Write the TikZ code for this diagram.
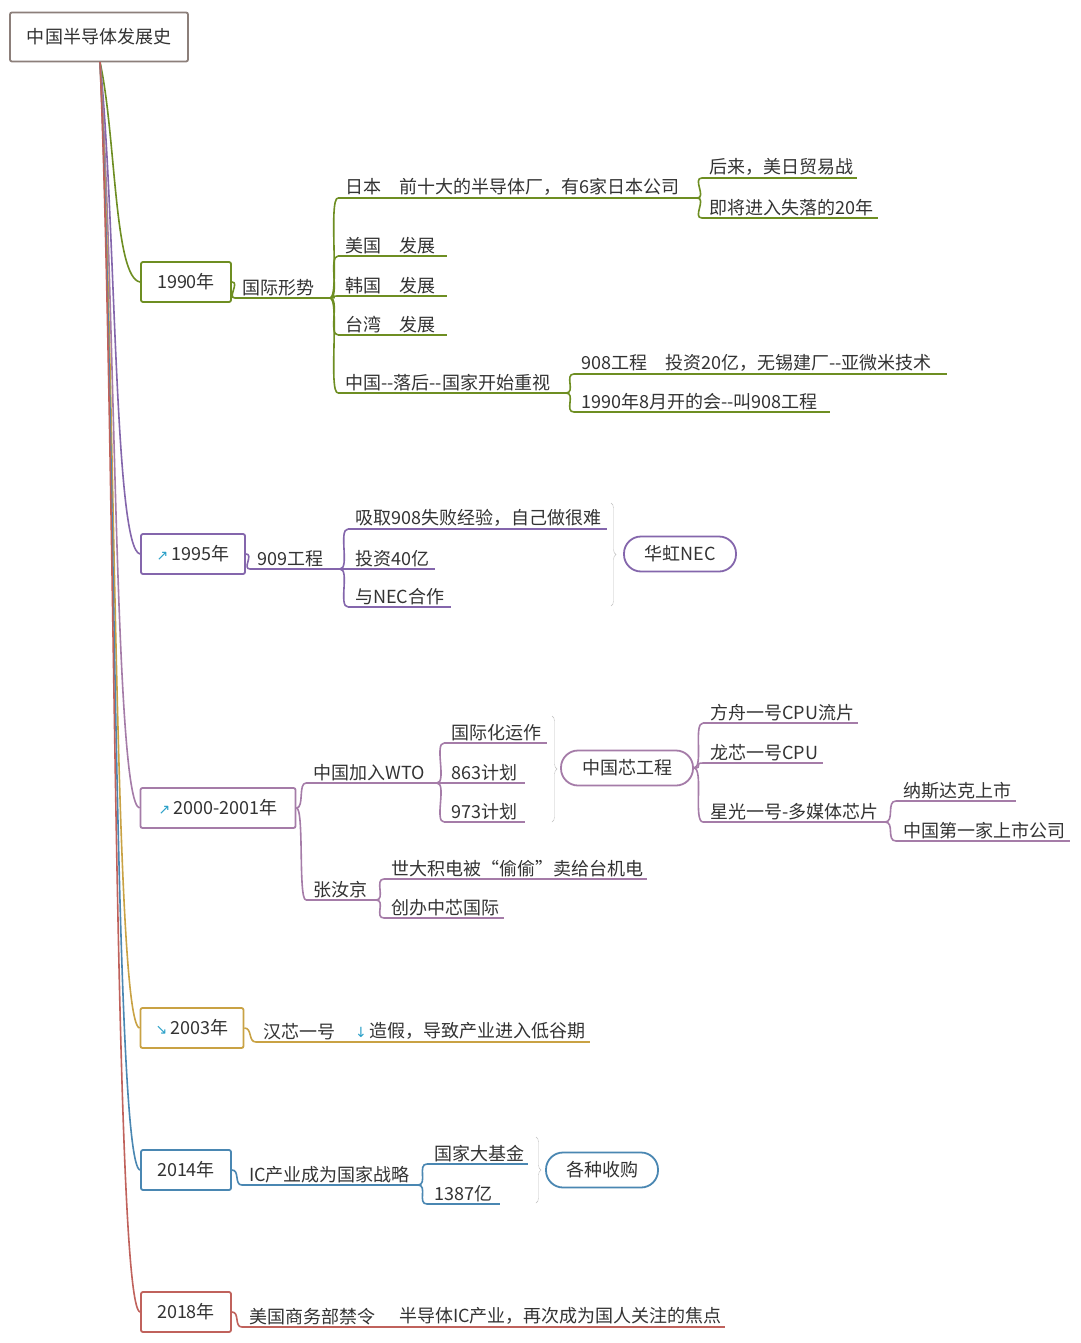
\documentclass[tikz,border=0pt]{standalone}
\usepackage{fontspec}
\setmainfont{Noto Sans CJK SC}
\newfontfamily\symfont{DejaVu Sans}
\usetikzlibrary{decorations.pathreplacing}
\definecolor{rootc}{HTML}{8C7F7A}
\definecolor{c1990}{HTML}{6E8E22}
\definecolor{c1995}{HTML}{8466AC}
\definecolor{c2000}{HTML}{A57CA8}
\definecolor{c2003}{HTML}{C9A244}
\definecolor{c2014}{HTML}{4A87B2}
\definecolor{c2018}{HTML}{C0625C}
\definecolor{textc}{HTML}{333333}
\definecolor{iconc}{HTML}{2AA0C8}
\tikzset{
  year/.style={draw, rectangle, rounded corners=2pt, line width=1.8pt, minimum height=40pt, text=textc, inner xsep=8pt},
  pill/.style={draw, rectangle, rounded corners=17pt, line width=1.8pt, minimum height=35pt, text=textc, inner xsep=16pt},
  branch/.style={line width=1.6pt},
  sbrace/.style={draw=black!25, decorate, decoration={brace, amplitude=5pt}},
}
% underlined topic: name, start x, end x, underline y, colour, text
\newcommand{\topic}[6]{%
  \coordinate (#1-s) at (#2,#4);
  \coordinate (#1-e) at (#3,#4);
  \node[anchor=south west, inner sep=1pt, text=textc] (#1) at (#2+6,#4-1) {#6};
  \draw[#5, branch] (#1-s) -- (#1-e);}
\newcommand{\mmlink}[3]{\draw[#3, branch] (#1) .. controls +(10,0) and +(-10,0) .. (#2);}
\newcommand{\icon}[1]{{\symfont\color{iconc}\fontsize{14}{14}\selectfont #1}\,}
\newcommand{\dd}{{-}{-}}

\begin{document}
\begin{tikzpicture}[x=1pt, y=-1pt, font=\fontsize{18}{21}\selectfont]
\fill[white] (0,0) rectangle (1080,1343);

% root and years
\node[year, draw=rootc, minimum width=178pt, minimum height=49pt] (root) at (99,37) {中国半导体发展史};
\node[year, draw=c1990, minimum width=90pt] (y1990) at (186,282) {1990年};
\node[year, draw=c1995, minimum width=104pt] (y1995) at (193,554) {\icon{↗}1995年};
\node[year, draw=c2000, minimum width=155pt] (y2000) at (218,808) {\icon{↗}2000-2001年};
\node[year, draw=c2003, minimum width=103pt] (y2003) at (192,1028) {\icon{↘}2003年};
\node[year, draw=c2014, minimum width=90pt] (y2014) at (186,1170) {2014年};
\node[year, draw=c2018, minimum width=90pt] (y2018) at (186,1312) {2018年};

\coordinate (r) at (100,62);
\foreach \y/\c/\yy in {y1990/c1990/282, y1995/c1995/554, y2000/c2000/808, y2003/c2003/1028, y2014/c2014/1170, y2018/c2018/1312}
  {\draw[\c, branch] (r) .. controls (116,{0.3*\yy+50}) and (114,\yy-4) .. (\y.west);}

% 1990
\topic{gjxs}{235}{330}{298}{c1990}{国际形势}
\draw[c1990, branch] (y1990.east) .. controls +(8,0) and +(-8,0) .. (gjxs-s);
\topic{jp}{338}{697}{198}{c1990}{日本\quad 前十大的半导体厂，有6家日本公司}
\topic{us}{338}{447}{256}{c1990}{美国\quad 发展}
\topic{kr}{338}{447}{296}{c1990}{韩国\quad 发展}
\topic{tw}{338}{447}{335}{c1990}{台湾\quad 发展}
\topic{cn}{338}{566}{393}{c1990}{中国\dd 落后\dd 国家开始重视}
\foreach \n in {jp, us, kr, tw, cn} {\mmlink{gjxs-e}{\n-s}{c1990}}
\topic{war}{702}{857}{178}{c1990}{后来，美日贸易战}
\topic{lost}{702}{878}{218}{c1990}{即将进入失落的20年}
\mmlink{jp-e}{war-s}{c1990}
\mmlink{jp-e}{lost-s}{c1990}
\topic{p908}{574}{947}{374}{c1990}{908工程\quad 投资20亿，无锡建厂\dd 亚微米技术}
\topic{meet}{574}{830}{412}{c1990}{1990年8月开的会\dd 叫908工程}
\mmlink{cn-e}{p908-s}{c1990}
\mmlink{cn-e}{meet-s}{c1990}

% 1995
\topic{p909}{250}{340}{569}{c1995}{909工程}
\draw[c1995, branch] (y1995.east) .. controls +(8,0) and +(-8,0) .. (p909-s);
\topic{lesson}{348}{607}{529}{c1995}{吸取908失败经验，自己做很难}
\topic{inv40}{348}{435}{569}{c1995}{投资40亿}
\topic{nec}{348}{451}{607}{c1995}{与NEC合作}
\foreach \n in {lesson, inv40, nec} {\mmlink{p909-e}{\n-s}{c1995}}
\draw[sbrace] (611,503) -- (611,606);
\node[pill, draw=c1995, minimum width=112pt] (hhnec) at (680,554) {华虹NEC};

% 2000-2001
\topic{wto}{306}{437}{783}{c2000}{中国加入WTO}
\draw[c2000, branch] (y2000.east) .. controls +(8,0) and +(-8,0) .. (wto-s);
\topic{intl}{444}{547}{743}{c2000}{国际化运作}
\topic{p863}{444}{525}{783}{c2000}{863计划}
\topic{p973}{444}{525}{822}{c2000}{973计划}
\foreach \n in {intl, p863, p973} {\mmlink{wto-e}{\n-s}{c2000}}
\draw[sbrace] (552,716) -- (552,822);
\node[pill, draw=c2000, minimum width=132pt] (chip) at (627,768) {中国芯工程};
\topic{fz}{703}{858}{723}{c2000}{方舟一号CPU流片}
\topic{lx}{703}{823}{763}{c2000}{龙芯一号CPU}
\topic{xg}{703}{885}{822}{c2000}{星光一号-多媒体芯片}
\foreach \n in {fz, lx, xg} {\mmlink{chip.east}{\n-s}{c2000}}
\topic{nsdq}{896}{1016}{801}{c2000}{纳斯达克上市}
\topic{first}{896}{1070}{841}{c2000}{中国第一家上市公司}
\mmlink{xg-e}{nsdq-s}{c2000}
\mmlink{xg-e}{first-s}{c2000}
\topic{zrj}{306}{376}{900}{c2000}{张汝京}
\draw[c2000, branch] (y2000.east) .. controls +(8,0) and +(-8,0) .. (zrj-s);
\topic{sdj}{384}{647}{879}{c2000}{世大积电被“偷偷”卖给台机电}
\topic{smic}{384}{504}{918}{c2000}{创办中芯国际}
\mmlink{zrj-e}{sdj-s}{c2000}
\mmlink{zrj-e}{smic-s}{c2000}

% 2003
\topic{hx}{256}{348}{1042}{c2003}{汉芯一号}
\draw[c2003, branch] (y2003.east) .. controls +(8,0) and +(-8,0) .. (hx-s);
\topic{fake}{348}{590}{1042}{c2003}{\icon{↓}造假，导致产业进入低谷期}

% 2014
\topic{ic}{242}{418}{1185}{c2014}{IC产业成为国家战略}
\draw[c2014, branch] (y2014.east) .. controls +(8,0) and +(-8,0) .. (ic-s);
\topic{fund}{427}{528}{1164}{c2014}{国家大基金}
\topic{b1387}{427}{500}{1204}{c2014}{1387亿}
\mmlink{ic-e}{fund-s}{c2014}
\mmlink{ic-e}{b1387-s}{c2014}
\draw[sbrace] (536,1137) -- (536,1203);
\node[pill, draw=c2014, minimum width=112pt] (buy) at (602,1170) {各种收购};

% 2018
\topic{ban}{242}{392}{1327}{c2018}{美国商务部禁令}
\draw[c2018, branch] (y2018.east) .. controls +(8,0) and +(-8,0) .. (ban-s);
\topic{focus}{392}{725}{1327}{c2018}{半导体IC产业，再次成为国人关注的焦点}
\end{tikzpicture}
\end{document}
